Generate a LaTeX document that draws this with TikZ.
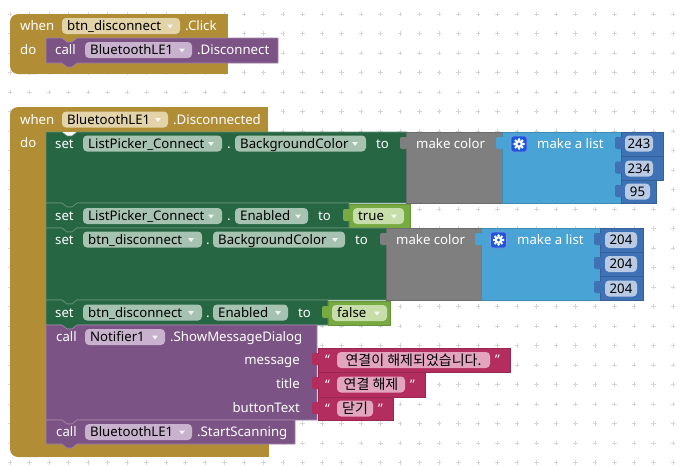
\documentclass[tikz,border=0pt]{standalone}
\usepackage{fontspec}
\setmainfont{Noto Sans}
\newfontfamily\kr{Noto Sans CJK KR}
\definecolor{evgold}{HTML}{B18E35}
\definecolor{evfld}{HTML}{E3D3A9}
\definecolor{setgrn}{HTML}{266643}
\definecolor{setfld}{HTML}{A6C2B1}
\definecolor{callpur}{HTML}{7C5385}
\definecolor{callfld}{HTML}{C8B2CE}
\definecolor{mkgray}{HTML}{7F7F7F}
\definecolor{lstblue}{HTML}{4AA3D5}
\definecolor{gearblue}{HTML}{1F55D8}
\definecolor{numblue}{HTML}{3F71B5}
\definecolor{numfld}{HTML}{B9CAE4}
\definecolor{boolgrn}{HTML}{77AB41}
\definecolor{boolfld}{HTML}{C8DEAA}
\definecolor{strmag}{HTML}{B32D5E}
\definecolor{strfld}{HTML}{E3A5BE}
\definecolor{gridc}{HTML}{D6D6D6}
\tikzset{
 lbl/.style={anchor=base west, inner sep=0pt, text=white, font=\fontsize{13.2}{15}\selectfont},
 lblr/.style={lbl, anchor=base east},
 ftx/.style={lbl, text=black},
 ctx/.style={ftx, anchor=base},
 krtx/.style={ctx, font=\kr\fontsize{14}{15}\selectfont},
}
% field: color, x1, x2, yc
\newcommand\fld[4]{\fill[#1, rounded corners=4pt] (#2,#4-8) rectangle (#3,#4+8);}
% dropdown triangle: x, yc
\newcommand\tri[2]{\fill[white, opacity=.8] (#1-3,#2-1.5) -- (#1+3,#2-1.5) -- (#1,#2+2.5) -- cycle;}
% statement block: color, x1, y1, x2, y2
\newcommand\stmt[5]{\filldraw[fill=#1, draw=#1!72!white, line width=.6pt]
 (#2,#3) -- ++(16,0) -- ++(5,4) -- ++(5,0) -- ++(5,-4) -- (#4,#3) -- (#4,#5)
 -- (#2+31,#5) -- ++(-5,4) -- ++(-5,0) -- ++(-5,-4) -- (#2,#5) -- cycle;}
% value block with left tab: color, x1, y1, x2, y2
\newcommand\vblock[5]{\fill[#1, rounded corners=2pt] (#2+2,#3+5) rectangle (#2-6,#3+17);
 \filldraw[fill=#1, draw=#1!85!black, line width=.5pt] (#2,#3) rectangle (#4,#5);
 \fill[#1, rounded corners=2pt] (#2+2,#3+5.3) rectangle (#2-5.7,#3+16.7);}
\newcommand\gear[2]{%
 \fill[gearblue, draw=gearblue!60!white, line width=.6pt, rounded corners=2.5pt] (#1-8,#2-8) rectangle (#1+8,#2+8);
 \foreach \a in {0,45,...,315} \fill[white] (#1,#2) ++(\a:4.6) circle (1.4);
 \fill[white] (#1,#2) circle (4);
 \fill[gearblue] (#1,#2) circle (1.7);}
\begin{document}
\begin{tikzpicture}[x=1pt,y=-1pt]
\useasboundingbox (0,0) rectangle (682,466);
\fill[white] (0,0) rectangle (682,466);
\foreach \i in {0,...,34} \foreach \j in {0,...,23}
  \draw[gridc, line width=.8pt] (10+19.5*\i-2.2,14+19.5*\j) -- ++(4.4,0) (10+19.5*\i,14+19.5*\j-2.2) -- ++(0,4.4);

% ---------- event 1 ----------
\fill[evgold, rounded corners=8pt] (10,14) rectangle (46,74);
\fill[evgold] (18,14) rectangle (228,74);
\node[lbl] (w1) at (20,30.5) {when};
\fld{evfld}{62}{180}{26}
\node[ftx] (f1) at (67,30.5) {btn\_disconnect}; \tri{170}{26}
\node[lbl] (c1) at (185,30.5) {.Click};
\node[lbl] (d1) at (20,54.5) {do};
\stmt{callpur}{46}{38}{278}{63}
\node[lbl] (k1) at (55,54.5) {call};
\fld{callfld}{85}{192}{50}
\node[ftx] (f2) at (90,54.5) {BluetoothLE1}; \tri{182}{50}
\node[lbl] (m1) at (197,54.5) {.Disconnect};

% ---------- event 2 ----------
\fill[evgold, rounded corners=8pt] (10,107) rectangle (46,457);
\fill[evgold] (18,107) rectangle (268,132);
\fill[evgold] (18,444) rectangle (269,457);
\node[lbl] (w2) at (20,124) {when};
\fld{evfld}{62}{168}{119.5}
\node[ftx] (f3) at (67,124) {BluetoothLE1}; \tri{158}{119.5}
\node[lbl] (c2) at (173,124) {.Disconnected};
\node[lbl] (d2) at (20,147.5) {do};

% set ListPicker_Connect.BackgroundColor
\stmt{setgrn}{46}{132}{407}{203}
\node[lbl] (s1) at (55,148) {set};
\fld{setfld}{83}{222}{143.5}
\node[ftx] (s1a) at (88,148) {ListPicker\_Connect}; \tri{211}{143.5}
\node[lbl] (s1b) at (227,148) {.};
\fld{setfld}{235}{366}{143.5}
\node[ftx] (s1c) at (240,148) {BackgroundColor}; \tri{355}{143.5}
\node[lbl] (s1d) at (376,148) {to};
\vblock{mkgray}{406}{132}{502}{203}
\node[lbl] (mc1) at (416,148) {make color};
\vblock{lstblue}{502}{132}{621}{203}
\gear{519}{144}
\node[lbl] (ml1) at (537,148) {make a list};
\vblock{numblue}{621}{132}{663}{156.5}
\fld{numfld}{625}{653}{143.5}
\node[ctx] (n1) at (639,148) {243};
\vblock{numblue}{621}{156.5}{663}{180}
\fld{numfld}{625}{653}{168.5}
\node[ctx] (n2) at (639,173) {234};
\vblock{numblue}{621}{180}{656}{203}
\fld{numfld}{625}{650}{191.5}
\node[ctx] (n3) at (637.5,196) {95};

% set ListPicker_Connect.Enabled
\stmt{setgrn}{46}{203}{349}{228}
\node[lbl] (s2) at (55,220.5) {set};
\fld{setfld}{83}{222}{216}
\node[ftx] (s2a) at (88,220.5) {ListPicker\_Connect}; \tri{211}{216}
\node[lbl] (s2b) at (227,220.5) {.};
\fld{setfld}{235}{308}{216}
\node[ftx] (s2c) at (240,220.5) {Enabled}; \tri{298}{216}
\node[lbl] (s2d) at (318,220.5) {to};
\vblock{boolgrn}{349}{204}{410}{228}
\fld{boolfld}{353}{404}{216}
\node[ftx] (t1) at (358,220.5) {true}; \tri{394}{216}

% set btn_disconnect.BackgroundColor
\stmt{setgrn}{46}{228}{387}{300}
\node[lbl] (s3) at (55,244) {set};
\fld{setfld}{83}{202}{239.5}
\node[ftx] (s3a) at (88,244) {btn\_disconnect}; \tri{191}{239.5}
\node[lbl] (s3b) at (206,244) {.};
\fld{setfld}{213}{345}{239.5}
\node[ftx] (s3c) at (218,244) {BackgroundColor}; \tri{335}{239.5}
\node[lbl] (s3d) at (355,244) {to};
\vblock{mkgray}{386}{228}{481}{300}
\node[lbl] (mc2) at (396,244) {make color};
\vblock{lstblue}{481}{228}{600}{300}
\gear{498.5}{240}
\node[lbl] (ml2) at (517,244) {make a list};
\vblock{numblue}{600}{228}{643}{252}
\fld{numfld}{605}{637}{240}
\node[ctx] (n4) at (621,244.5) {204};
\vblock{numblue}{600}{252}{643}{276}
\fld{numfld}{605}{637}{264}
\node[ctx] (n5) at (621,268.5) {204};
\vblock{numblue}{600}{276}{643}{300}
\fld{numfld}{605}{637}{288.5}
\node[ctx] (n6) at (621,293) {204};

% set btn_disconnect.Enabled
\stmt{setgrn}{46}{300}{328}{325}
\node[lbl] (s4) at (55,317) {set};
\fld{setfld}{83}{202}{312.5}
\node[ftx] (s4a) at (88,317) {btn\_disconnect}; \tri{191}{312.5}
\node[lbl] (s4b) at (206,317) {.};
\fld{setfld}{213}{288}{312.5}
\node[ftx] (s4c) at (218,317) {Enabled}; \tri{278}{312.5}
\node[lbl] (s4d) at (298,317) {to};
\vblock{boolgrn}{328}{301}{390}{325}
\fld{boolfld}{332}{387}{313}
\node[ftx] (t2) at (337,317.5) {false}; \tri{377}{313}

% call Notifier1.ShowMessageDialog
\stmt{callpur}{46}{325}{317}{420}
\node[lbl] (k2) at (56,341.5) {call};
\fld{callfld}{85}{165}{337}
\node[ftx] (f4) at (90,341.5) {Notifier1}; \tri{155}{337}
\node[lbl] (m2) at (170,341.5) {.ShowMessageDialog};
\node[lblr] (a1) at (300,364.5) {message};
\node[lblr] (a2) at (300,388.5) {title};
\node[lblr] (a3) at (300,412.5) {buttonText};
\vblock{strmag}{318}{348}{510}{372}
\node[lbl] (q1) at (325,364.5) {“};
\fld{strfld}{337}{490}{360}
\node[krtx] (x1) at (413.5,365) {연결이 해제되었습니다.};
\node[lbl] (q2) at (495,364.5) {”};
\vblock{strmag}{318}{372}{425}{397}
\node[lbl] (q3) at (325,389) {“};
\fld{strfld}{337}{405}{384.5}
\node[krtx] (x2) at (371,389.5) {연결 해제};
\node[lbl] (q4) at (410,389) {”};
\vblock{strmag}{318}{397}{393}{420}
\node[lbl] (q5) at (325,413) {“};
\fld{strfld}{337}{373}{408.5}
\node[krtx] (x3) at (355,413.5) {닫기};
\node[lbl] (q6) at (378,413) {”};

% call BluetoothLE1.StartScanning
\stmt{callpur}{46}{420}{295}{444}
\node[lbl] (k3) at (56,436.5) {call};
\fld{callfld}{85}{192}{432}
\node[ftx] (f5) at (90,436.5) {BluetoothLE1}; \tri{182}{432}
\node[lbl] (m3) at (197,436.5) {.StartScanning};
\end{tikzpicture}
\end{document}
